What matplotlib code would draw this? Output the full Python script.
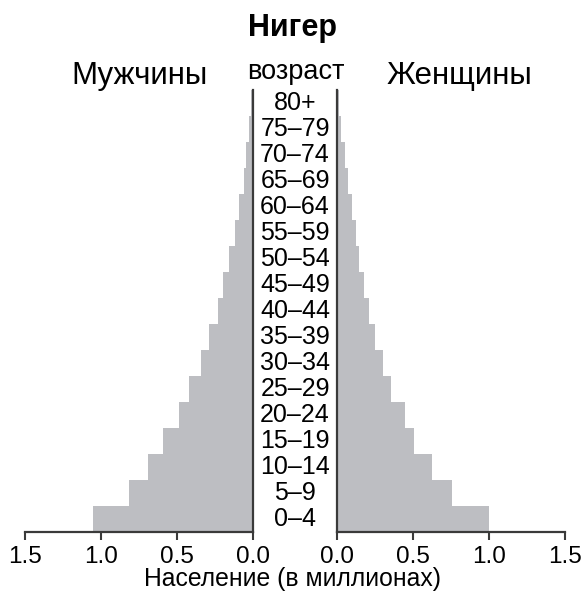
import matplotlib
matplotlib.use("Agg")
import matplotlib.pyplot as plt
from matplotlib.transforms import blended_transform_factory

plt.rcParams['font.family'] = ['Liberation Sans', 'DejaVu Sans']

age_groups = ["0–4", "5–9", "10–14", "15–19", "20–24", "25–29", "30–34",
              "35–39", "40–44", "45–49", "50–54", "55–59", "60–64",
              "65–69", "70–74", "75–79", "80+"]
# population, millions
male = [1.053, 0.816, 0.688, 0.590, 0.487, 0.423, 0.342, 0.287, 0.232,
        0.195, 0.158, 0.118, 0.092, 0.057, 0.048, 0.024, 0.013]
female = [1.000, 0.757, 0.627, 0.509, 0.445, 0.355, 0.300, 0.252, 0.208,
          0.175, 0.142, 0.127, 0.099, 0.070, 0.055, 0.026, 0.010]
xticks = [0.0, 0.5, 1.0, 1.5]

W, H = 585, 595
fig = plt.figure(figsize=(W / 100, H / 100), dpi=100)

bar_color = '#bdbec2'
spine_color = '#3a3a3a'
y = list(range(len(age_groups)))

ax_l = fig.add_axes([25 / W, (H - 532) / H, 228 / W, 442 / H])
ax_r = fig.add_axes([337 / W, (H - 532) / H, 228 / W, 442 / H])

ax_l.barh(y, male, height=1.0, color=bar_color, linewidth=0)
ax_r.barh(y, female, height=1.0, color=bar_color, linewidth=0)

for ax in (ax_l, ax_r):
    ax.set_ylim(-0.5, len(age_groups) - 0.5)
    ax.set_yticks([])
    ax.set_xticks(xticks)
    ax.set_xticklabels([f"{t:.1f}" for t in xticks], fontsize=17.5)
    ax.tick_params(axis='x', direction='out', length=6, width=1.5,
                   color=spine_color, pad=4)
    ax.spines['top'].set_visible(False)
    for s in ax.spines.values():
        s.set_color(spine_color)
        s.set_linewidth(1.6)

ax_l.set_xlim(1.5, 0)
ax_l.spines['left'].set_visible(False)
ax_r.set_xlim(0, 1.5)
ax_r.spines['right'].set_visible(False)

# age labels in the middle gap
tr = blended_transform_factory(fig.transFigure, ax_l.transData)
for yi, lab in zip(y, age_groups):
    fig.text(295 / W, yi, lab, transform=tr, ha='center', va='center',
             fontsize=18)

fig.text(293 / W, 1 - 28 / H, "Нигер", ha='center', va='center',
         fontsize=22, fontweight='bold')
fig.text(140 / W, 1 - 76 / H, "Мужчины", ha='center', va='center', fontsize=22.5)
fig.text(459 / W, 1 - 76 / H, "Женщины", ha='center', va='center', fontsize=22.5)
fig.text(296 / W, 1 - 72 / H, "возраст", ha='center', va='center', fontsize=19.5)
fig.text(292 / W, 1 - 579 / H, "Население (в миллионах)", ha='center',
         va='center', fontsize=17.8)

fig.savefig("out.png", dpi=100)
